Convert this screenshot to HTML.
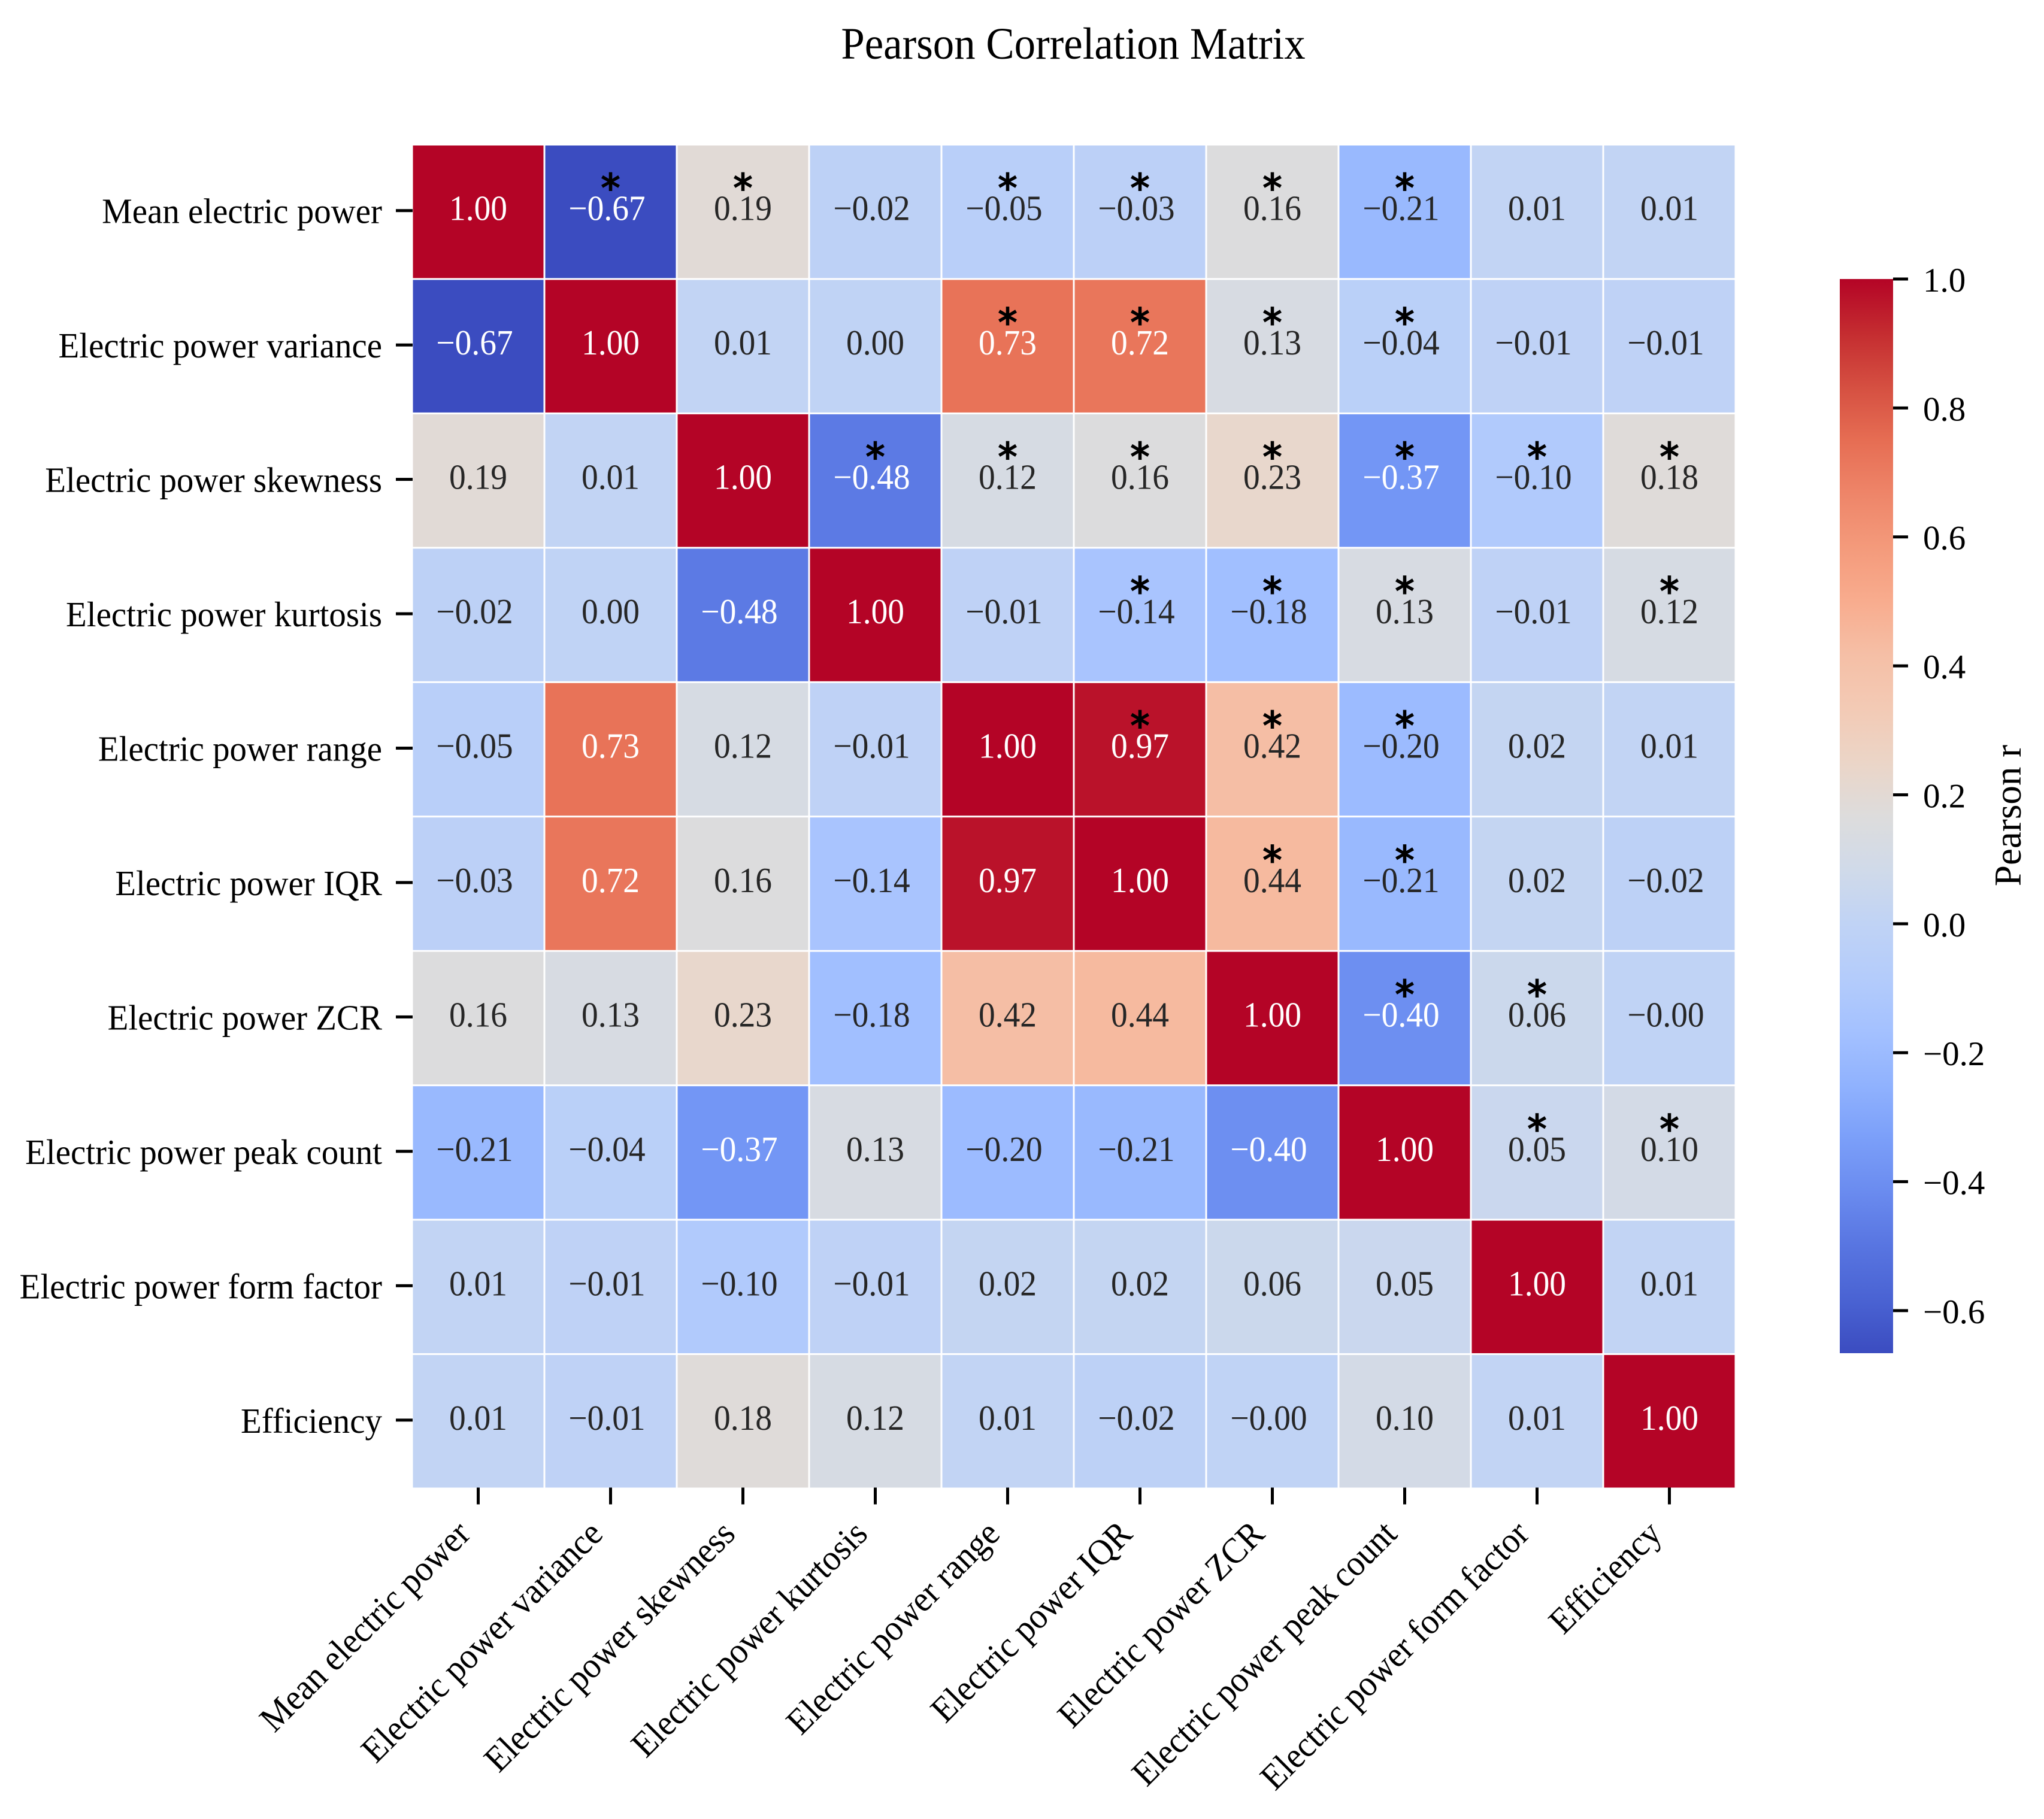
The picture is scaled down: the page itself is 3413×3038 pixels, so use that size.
<!DOCTYPE html>
<html lang="en">
<head>
<meta charset="utf-8">
<title>Pearson Correlation Matrix</title>
<style>
  html, body { margin: 0; padding: 0; background: #ffffff; }
  svg { display: block; }
  text { font-family: "Liberation Serif", "Times New Roman", serif; }
</style>
</head>
<body>
<svg id="chart" xmlns="http://www.w3.org/2000/svg" width="3413" height="3038" viewBox="0 0 3413 3038">
  <rect x="0" y="0" width="3413" height="3038" fill="#ffffff"/>
  <defs>
    <linearGradient id="cbar-gradient" x1="0" y1="0" x2="0" y2="1"></linearGradient>
  </defs>
  <text transform="translate(1792 98) scale(0.945 1)" text-anchor="middle" font-size="75" fill="#000000">Pearson Correlation Matrix</text>
  <text transform="translate(3374 1362) rotate(-90)" text-anchor="middle" font-size="63" fill="#000000">Pearson r</text>
  <g id="cells"></g>
  <g id="annotations"></g>
  <g id="y-axis"></g>
  <g id="x-axis"></g>
  <g id="colorbar"></g>
</svg>
<script>
// ---- chart data ----
const categories = [
  "Mean electric power",
  "Electric power variance",
  "Electric power skewness",
  "Electric power kurtosis",
  "Electric power range",
  "Electric power IQR",
  "Electric power ZCR",
  "Electric power peak count",
  "Electric power form factor",
  "Efficiency"
];
const correlations = [
  [ 1.00, -0.666, 0.19, -0.02, -0.05, -0.03,  0.16, -0.21,  0.01,  0.01],
  [-0.666, 1.00,  0.01,  0.00,  0.73,  0.72,  0.13, -0.04, -0.01, -0.01],
  [ 0.19,  0.01,  1.00, -0.48,  0.12,  0.16,  0.23, -0.37, -0.10,  0.18],
  [-0.02,  0.00, -0.48,  1.00, -0.01, -0.14, -0.18,  0.13, -0.01,  0.12],
  [-0.05,  0.73,  0.12, -0.01,  1.00,  0.97,  0.42, -0.20,  0.02,  0.01],
  [-0.03,  0.72,  0.16, -0.14,  0.97,  1.00,  0.44, -0.21,  0.02, -0.02],
  [ 0.16,  0.13,  0.23, -0.18,  0.42,  0.44,  1.00, -0.40,  0.06, -0.001],
  [-0.21, -0.04, -0.37,  0.13, -0.20, -0.21, -0.40,  1.00,  0.05,  0.10],
  [ 0.01, -0.01, -0.10, -0.01,  0.02,  0.02,  0.06,  0.05,  1.00,  0.01],
  [ 0.01, -0.01,  0.18,  0.12,  0.01, -0.02, -0.001, 0.10,  0.01,  1.00]
];
const significant = [
  [0,1,1,0,1,1,1,1,0,0],
  [0,0,0,0,1,1,1,1,0,0],
  [0,0,0,1,1,1,1,1,1,1],
  [0,0,0,0,0,1,1,1,0,1],
  [0,0,0,0,0,1,1,1,0,0],
  [0,0,0,0,0,0,1,1,0,0],
  [0,0,0,0,0,0,0,1,1,0],
  [0,0,0,0,0,0,0,0,1,1],
  [0,0,0,0,0,0,0,0,0,0],
  [0,0,0,0,0,0,0,0,0,0]
];
const colorbarTicks = [1.0, 0.8, 0.6, 0.4, 0.2, 0.0, -0.2, -0.4, -0.6];
// coolwarm colormap samples, evenly spaced over 0..1
const coolwarmSamples = ["#3b4cc0","#4a63d3","#5875e1","#6a8bef","#7b9ff9","#90b2fe","#a4c1ff","#b4ccfb","#c0d3f5","#d0dae9","#dddcdc","#ebd5c7","#f3cab5","#f5bfa6","#f8ac8e","#f49a7b","#ee8569","#e66d53","#d54f41","#c42c30","#b40426"];

// ---- layout ----
const NS = "http://www.w3.org/2000/svg";
const plot = { left: 688, right: 2898, top: 241.5, bottom: 2486 };
const bar = { left: 3072, right: 3161, top: 466, bottom: 2260 };
const gridGap = 3;
const textDark = "#262626";

// ---- scales ----
const n = categories.length;
const allValues = correlations.reduce(function (acc, row) { return acc.concat(row); }, []);
const vmin = Math.min.apply(null, allValues);
const vmax = Math.max.apply(null, allValues);
const bandW = (plot.right - plot.left) / n;
const bandH = (plot.bottom - plot.top) / n;
function xBand(i) { return plot.left + i * bandW; }
function yBand(i) { return plot.top + i * bandH; }
function xCenter(i) { return xBand(i) + bandW / 2; }
function yCenter(i) { return yBand(i) + bandH / 2; }
function norm(v) { return vmax === vmin ? 0.5 : (v - vmin) / (vmax - vmin); }
function cbarY(v) { return bar.top + (vmax - v) / (vmax - vmin) * (bar.bottom - bar.top); }

function hexToRgb(h) {
  return [parseInt(h.slice(1, 3), 16), parseInt(h.slice(3, 5), 16), parseInt(h.slice(5, 7), 16)];
}
function coolwarm(t) {
  t = Math.max(0, Math.min(1, t));
  const p = t * (coolwarmSamples.length - 1);
  const i = Math.min(Math.floor(p), coolwarmSamples.length - 2);
  const f = p - i;
  const a = hexToRgb(coolwarmSamples[i]);
  const b = hexToRgb(coolwarmSamples[i + 1]);
  return [0, 1, 2].map(function (k) { return Math.round(a[k] + (b[k] - a[k]) * f); });
}
function rgbStr(c) { return "rgb(" + c[0] + "," + c[1] + "," + c[2] + ")"; }
function luminance(c) {
  const l = c.map(function (x) {
    const s = x / 255;
    return s <= 0.03928 ? s / 12.92 : Math.pow((s + 0.055) / 1.055, 2.4);
  });
  return 0.2126 * l[0] + 0.7152 * l[1] + 0.0722 * l[2];
}
function fmt(v, digits) { return v.toFixed(digits).replace("-", "\u2212"); }

function svgEl(tag, parent) {
  const el = document.createElementNS(NS, tag);
  parent.appendChild(el);
  return el;
}

// ---- heatmap cells and annotations ----
const cellsG = document.getElementById("cells");
const annG = document.getElementById("annotations");
correlations.forEach(function (row, r) {
  row.forEach(function (value, c) {
    const color = coolwarm(norm(value));
    const rect = svgEl("rect", cellsG);
    
    
    rect.setAttribute("x", xBand(c) + gridGap / 2);
    rect.setAttribute("y", yBand(r) + gridGap / 2);
    rect.setAttribute("width", bandW - gridGap);
    rect.setAttribute("height", bandH - gridGap);
    rect.setAttribute("fill", rgbStr(color));

    const fill = luminance(color) < 0.408 ? "#ffffff" : textDark;
    const label = svgEl("text", annG);
    
    
    const shift = value < 0 ? -6 : 0;
    label.setAttribute("transform", "translate(" + (xCenter(c) + shift) + " " + (yCenter(r) + 14) + ") scale(0.94 1)");
    label.setAttribute("text-anchor", "middle");
    label.setAttribute("font-size", "59");
    label.setAttribute("fill", fill);
    label.textContent = fmt(value, 2);

    if (significant[r][c]) {
      const star = svgEl("text", annG);
      
      
      star.setAttribute("x", xCenter(c));
      star.setAttribute("y", yCenter(r) - 17);
      star.setAttribute("text-anchor", "middle");
      star.setAttribute("font-size", "64");
      star.setAttribute("style", 'font-family: "DejaVu Sans", sans-serif;');
      star.setAttribute("fill", "#000000");
      star.setAttribute("stroke", "#000000");
      star.setAttribute("stroke-width", "2");
      star.textContent = "*";
    }
  });
});

// ---- y axis ----
const yAxis = document.getElementById("y-axis");
categories.forEach(function (name, i) {
  const tick = svgEl("rect", yAxis);
  
  
  tick.setAttribute("x", plot.left - 27);
  tick.setAttribute("y", yCenter(i) - 4.5);
  tick.setAttribute("width", 28);
  tick.setAttribute("height", 5);
  tick.setAttribute("fill", "#000000");

  const label = svgEl("text", yAxis);
  
  
  label.setAttribute("transform", "translate(638 " + (yCenter(i) + 19) + ") scale(0.965 1)");
  label.setAttribute("text-anchor", "end");
  label.setAttribute("font-size", "59");
  label.setAttribute("fill", "#000000");
  label.textContent = name;
});

// ---- x axis ----
const xAxis = document.getElementById("x-axis");
categories.forEach(function (name, i) {
  const tick = svgEl("rect", xAxis);
  
  
  tick.setAttribute("x", xCenter(i) - 2.5);
  tick.setAttribute("y", plot.bottom - 1.5);
  tick.setAttribute("width", 5);
  tick.setAttribute("height", 28);
  tick.setAttribute("fill", "#000000");

  const label = svgEl("text", xAxis);
  
  
  label.setAttribute("transform", "translate(" + (xCenter(i) - 10) + " 2565) rotate(-45) scale(0.94 1)");
  label.setAttribute("text-anchor", "end");
  label.setAttribute("font-size", "60.5");
  label.setAttribute("fill", "#000000");
  label.textContent = name;
});

// ---- colorbar ----
const grad = document.getElementById("cbar-gradient");
coolwarmSamples.forEach(function (_, i) {
  const t = 1 - i / (coolwarmSamples.length - 1);
  const stop = svgEl("stop", grad);
  stop.setAttribute("offset", (1 - t).toFixed(4));
  stop.setAttribute("stop-color", rgbStr(coolwarm(t)));
});

const cbG = document.getElementById("colorbar");
const cbRect = svgEl("rect", cbG);


cbRect.setAttribute("x", bar.left);
cbRect.setAttribute("y", bar.top);
cbRect.setAttribute("width", bar.right - bar.left);
cbRect.setAttribute("height", bar.bottom - bar.top);
cbRect.setAttribute("fill", "url(#cbar-gradient)");

colorbarTicks.forEach(function (v) {
  const tick = svgEl("rect", cbG);
  
  
  tick.setAttribute("x", bar.right);
  tick.setAttribute("y", cbarY(v) - 2.5);
  tick.setAttribute("width", 25);
  tick.setAttribute("height", 5);
  tick.setAttribute("fill", "#000000");

  const label = svgEl("text", cbG);
  
  
  label.setAttribute("x", 3211);
  label.setAttribute("y", cbarY(v) + 21);
  label.setAttribute("font-size", "57");
  label.setAttribute("fill", "#000000");
  label.textContent = fmt(v, 1);
});
</script>
</body>
</html>
